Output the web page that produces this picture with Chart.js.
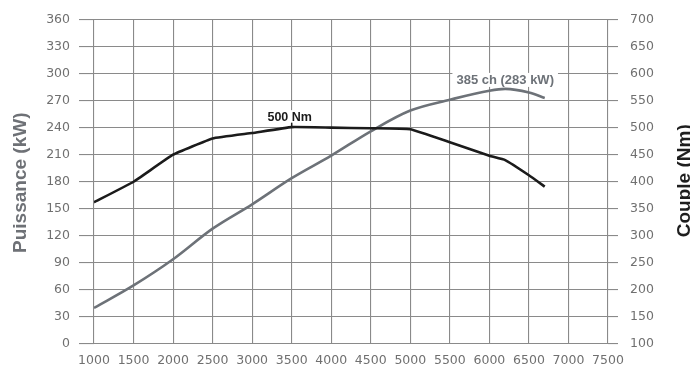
<!DOCTYPE html>
<html>
<head>
<meta charset="utf-8">
<script src="https://cdn.jsdelivr.net/npm/chart.js@4/dist/chart.umd.min.js"></script>
<style>
  html, body { margin: 0; padding: 0; background: #fff; }
  #wrap { width: 690px; height: 373px; }
</style>
</head>
<body>
<div id="wrap"><canvas id="c" width="690" height="373"></canvas></div>
<script>
// ---- data ----
const rpm = [1000, 1500, 2000, 2500, 3000, 3500, 4000, 4500, 5000, 5500, 6000, 6200, 6500, 6700];
const torqueNm = [362, 400, 450, 480, 490, 501, 500, 499, 497, 473, 448, 440, 412, 391];
const powerKW = [40, 65, 94, 128, 155, 184, 209, 236, 259, 271, 281, 283, 279, 273];

const xTicks = [1000, 1500, 2000, 2500, 3000, 3500, 4000, 4500, 5000, 5500, 6000, 6500, 7000, 7500];
const powerTicks = [0, 30, 60, 90, 120, 150, 180, 210, 240, 270, 300, 330, 360];
const torqueTicks = [100, 150, 200, 250, 300, 350, 400, 450, 500, 550, 600, 650, 700];

const leftTitle = 'Puissance (kW)';
const rightTitle = 'Couple (Nm)';
const torquePeakLabel = '500 Nm';
const torquePeakRpm = 3500;
const torquePeakValue = 500;
const powerPeakLabel = '385 ch (283 kW)';
const powerPeakRpm = 6200;
const powerPeakValue = 283;

// ---- styles ----
const gridColor = '#8a8a8a';
const tickColor = '#707070';
const powerColor = '#6d7278';
const torqueColor = '#1b1b1b';
const tickFont = { family: 'DejaVu Sans', size: 12.5 };

const annotations = {
  id: 'annotations',
  afterDatasetsDraw(chart) {
    const ctx = chart.ctx;
    const xs = chart.scales.x, yP = chart.scales.y, yT = chart.scales.y1;

    function boxedLabel(text, cx, cy, color, size) {
      ctx.save();
      ctx.font = 'bold ' + size + 'px "Liberation Sans", Arial, sans-serif';
      const w = ctx.measureText(text).width;
      ctx.fillStyle = '#ffffff';
      ctx.fillRect(cx - w / 2 - 4, cy - 7.5, w + 8, 14);
      ctx.fillStyle = color;
      ctx.textAlign = 'center';
      ctx.textBaseline = 'middle';
      ctx.fillText(text, cx, cy);
      ctx.restore();
    }

    // torque peak label with small marker
    const tx = xs.getPixelForValue(torquePeakRpm);
    const ty = yT.getPixelForValue(torquePeakValue);
    boxedLabel(torquePeakLabel, tx - 2, ty - 10, torqueColor, 12.5);
    ctx.save();
    ctx.strokeStyle = torqueColor;
    ctx.lineWidth = 1.5;
    ctx.beginPath();
    ctx.moveTo(tx, ty);
    ctx.lineTo(tx, ty - 5);
    ctx.stroke();
    ctx.restore();

    // power peak label
    const px = xs.getPixelForValue(powerPeakRpm);
    const py = yP.getPixelForValue(powerPeakValue);
    boxedLabel(powerPeakLabel, px, py - 8.5, powerColor, 13);
  },
  afterDraw(chart) {
    const ctx = chart.ctx;
    const area = chart.chartArea;
    const cy = (area.top + area.bottom) / 2 + 1;
    ctx.save();
    ctx.font = 'bold 19px "Liberation Sans", Arial, sans-serif';
    ctx.textAlign = 'center';
    ctx.textBaseline = 'middle';
    // left title
    ctx.save();
    ctx.translate(21, cy);
    ctx.rotate(-Math.PI / 2);
    ctx.fillStyle = '#6e7176';
    ctx.fillText(leftTitle, 0, 0);
    ctx.restore();
    // right title
    ctx.save();
    ctx.translate(685, cy - 2);
    ctx.rotate(-Math.PI / 2);
    ctx.fillStyle = '#1e1e1e';
    ctx.fillText(rightTitle, 0, 0);
    ctx.restore();
    ctx.restore();
  }
};

new Chart(document.getElementById('c'), {
  type: 'line',
  data: {
    datasets: [
      {
        label: 'Couple (Nm)',
        data: rpm.map((r, i) => ({ x: r, y: torqueNm[i] })),
        yAxisID: 'y1',
        borderColor: torqueColor,
        borderWidth: 2.6,
        pointRadius: 0,
        tension: 0.1,
        fill: false
      },
      {
        label: 'Puissance (kW)',
        data: rpm.map((r, i) => ({ x: r, y: powerKW[i] })),
        yAxisID: 'y',
        borderColor: powerColor,
        borderWidth: 2.6,
        pointRadius: 0,
        cubicInterpolationMode: 'monotone',
        fill: false
      }
    ]
  },
  options: {
    responsive: false,
    animation: false,
    layout: { padding: { top: 15, bottom: 0, left: 0, right: 0 } },
    plugins: { legend: { display: false }, tooltip: { enabled: false } },
    scales: {
      x: {
        type: 'linear',
        min: xTicks[0],
        max: xTicks[xTicks.length - 1],
        afterBuildTicks: s => { s.ticks = xTicks.map(v => ({ value: v })); },
        afterFit: s => { s.height = 29; },
        border: { display: false },
        grid: { color: gridColor, lineWidth: 1.1, drawTicks: false, tickLength: 0 },
        ticks: { color: tickColor, font: tickFont, padding: 9, maxRotation: 0, autoSkip: false,
                 callback: v => String(v) }
      },
      y: {
        position: 'left',
        min: powerTicks[0],
        max: powerTicks[powerTicks.length - 1],
        afterBuildTicks: s => { s.ticks = powerTicks.map(v => ({ value: v })); },
        afterFit: s => { s.width = 94; },
        border: { display: false },
        grid: { color: gridColor, lineWidth: 1.1, drawTicks: true, tickLength: 15 },
        ticks: { color: tickColor, font: tickFont, padding: 9, callback: v => String(v) }
      },
      y1: {
        position: 'right',
        min: torqueTicks[0],
        max: torqueTicks[torqueTicks.length - 1],
        afterBuildTicks: s => { s.ticks = torqueTicks.map(v => ({ value: v })); },
        afterFit: s => { s.width = 82; },
        border: { display: false },
        grid: { color: gridColor, lineWidth: 1.1, drawOnChartArea: false, drawTicks: true, tickLength: 10 },
        ticks: { color: tickColor, font: tickFont, padding: 12, callback: v => String(v) }
      }
    }
  },
  plugins: [annotations]
});
</script>
</body>
</html>
